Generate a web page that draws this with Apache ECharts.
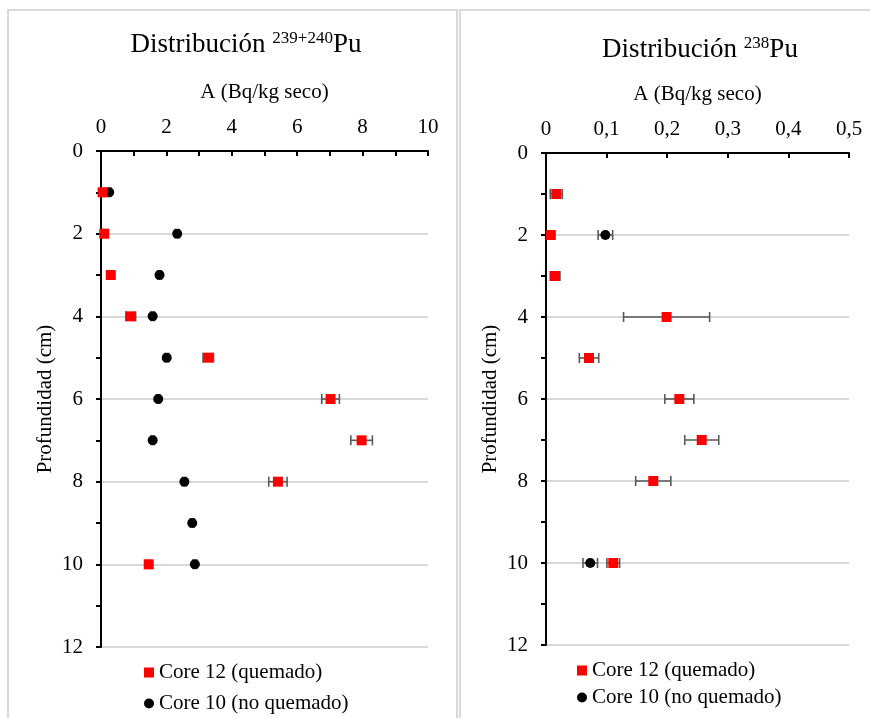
<!DOCTYPE html>
<html>
<head>
<meta charset="utf-8">
<script src="https://cdn.jsdelivr.net/npm/echarts@6/dist/echarts.min.js"></script>
<style>
  html, body { margin: 0; padding: 0; background: #fff; }
  #chart { width: 870px; height: 718px; }
</style>
</head>
<body>
<div id="chart"></div>
<script>
// Depth profiles of plutonium activity (Bq/kg dry) for two soil cores.
var serieQuemado = 'Core 12 (quemado)';
var serieNoQuemado = 'Core 10 (no quemado)';

// 239+240Pu
var depthCore12 = [1, 2, 3, 4, 5, 6, 7, 8, 10];
var pu239Core12 = [0.05, 0.1, 0.3, 0.91, 3.28, 7.02, 7.97, 5.41, 1.46];
var pu239Core12Err = [0.05, 0.05, 0.06, 0.15, 0.16, 0.27, 0.33, 0.28, 0.05];

var depthCore10 = [1, 2, 3, 4, 5, 6, 7, 8, 9, 10];
var pu239Core10 = [0.25, 2.33, 1.79, 1.58, 2.01, 1.75, 1.58, 2.55, 2.79, 2.87];
var pu239Core10Err = [0.05, 0.06, 0.06, 0.06, 0.06, 0.05, 0.05, 0.06, 0.06, 0.06];

// 238Pu
var pu238Core12 = [0.017, 0.008, 0.015, 0.199, 0.071, 0.22, 0.257, 0.177, 0.111];
var pu238Core12Err = [0.01, 0.005, 0.008, 0.071, 0.016, 0.024, 0.028, 0.029, 0.0105];

var depth238Core10 = [2, 10];
var pu238Core10 = [0.098, 0.073];
var pu238Core10Err = [0.012, 0.012];

var FONT = '"Liberation Serif", "Times New Roman", serif';
var FS = 21;

function points(vals, depths) {
  return vals.map(function (v, i) { return [v, depths[i]]; });
}
function errRanges(vals, errs, depths) {
  return vals.map(function (v, i) { return [v - errs[i], depths[i], v + errs[i]]; });
}

function errorBarItem(params, api) {
  var y = api.value(1);
  var p1 = api.coord([api.value(0), y]);
  var p2 = api.coord([api.value(2), y]);
  var h = 5;
  var style = { stroke: '#595959', lineWidth: 1.6, fill: null };
  return {
    type: 'group',
    children: [
      { type: 'line', shape: { x1: p1[0], y1: p1[1], x2: p2[0], y2: p2[1] }, style: style },
      { type: 'line', shape: { x1: p1[0], y1: p1[1] - h, x2: p1[0], y2: p1[1] + h }, style: style },
      { type: 'line', shape: { x1: p2[0], y1: p2[1] - h, x2: p2[0], y2: p2[1] + h }, style: style }
    ]
  };
}

function depthAxis(gridIndex) {
  return {
    gridIndex: gridIndex,
    type: 'value',
    inverse: true,
    min: 0, max: 12, interval: 2,
    name: 'Profundidad (cm)',
    nameLocation: 'middle',
    nameGap: 45,
    nameTextStyle: { fontFamily: FONT, fontSize: FS, color: '#000' },
    axisLine: { show: true, onZero: false, lineStyle: { color: '#000', width: 2 } },
    axisTick: { show: true, inside: false, length: 5, lineStyle: { color: '#000', width: 2 } },
    minorTick: { show: true, splitNumber: 2, length: 5, lineStyle: { color: '#000', width: 2 } },
    axisLabel: { fontFamily: FONT, fontSize: FS, color: '#000', margin: 18 },
    splitLine: { show: true, lineStyle: { color: '#d9d9d9', width: 2 } }
  };
}

function activityAxis(gridIndex, max, interval, minor, fmt) {
  return {
    gridIndex: gridIndex,
    type: 'value',
    position: 'top',
    min: 0, max: max, interval: interval,
    name: 'A (Bq/kg seco)',
    nameLocation: 'middle',
    nameGap: 48,
    nameTextStyle: { fontFamily: FONT, fontSize: FS, color: '#000' },
    axisLine: { show: true, onZero: false, lineStyle: { color: '#000', width: 2 } },
    axisTick: { show: true, inside: true, length: 5, lineStyle: { color: '#000', width: 2 } },
    minorTick: { show: minor, splitNumber: 2, length: 5, lineStyle: { color: '#000', width: 2 } },
    axisLabel: { fontFamily: FONT, fontSize: FS, color: '#000', margin: 13, formatter: fmt },
    splitLine: { show: false }
  };
}

function commaFmt(v) {
  return String(+v.toFixed(2)).replace('.', ',');
}

var titleRich = {
  m: { fontFamily: FONT, fontSize: 27, color: '#000', lineHeight: 34 },
  s: { fontFamily: FONT, fontSize: 17, color: '#000', lineHeight: 34, padding: [0, 0, 12, 0] }
};

function legendFor(left, top, gap) {
  return {
    orient: 'vertical', left: left, top: top, itemGap: gap, padding: 0, height: 80,
    itemWidth: 10, itemHeight: 10,
    textStyle: { fontFamily: FONT, fontSize: FS, color: '#000' },
    data: [{ name: serieQuemado, icon: 'rect' }, { name: serieNoQuemado, icon: 'circle' }]
  };
}

var option = {
  backgroundColor: '#fff',
  animation: false,
  graphic: [
    { type: 'rect', shape: { x: 8, y: 10, width: 449, height: 720 }, style: { fill: null, stroke: '#d9d9d9', lineWidth: 2 }, z: -10 },
    { type: 'rect', shape: { x: 460, y: 10, width: 420, height: 720 }, style: { fill: null, stroke: '#d9d9d9', lineWidth: 2 }, z: -10 },
    { type: 'text', x: 246, y: 45, style: { text: '{m|Distribución }{s|239+240}{m|Pu}', rich: titleRich, align: 'center', verticalAlign: 'middle' } },
    { type: 'text', x: 700, y: 50, style: { text: '{m|Distribución }{s|238}{m|Pu}', rich: titleRich, align: 'center', verticalAlign: 'middle' } }
  ],
  grid: [
    { left: 101, top: 151, width: 327, height: 496 },
    { left: 546, top: 153, width: 303, height: 492 }
  ],
  xAxis: [
    activityAxis(0, 10, 2, true, null),
    activityAxis(1, 0.5, 0.1, false, commaFmt)
  ],
  yAxis: [depthAxis(0), depthAxis(1)],
  legend: [legendFor(144, 662, 10), legendFor(577, 660, 6)],
  series: [
    { type: 'custom', name: 'err239_12', xAxisIndex: 0, yAxisIndex: 0, renderItem: errorBarItem,
      encode: { x: [0, 2], y: 1 }, data: errRanges(pu239Core12, pu239Core12Err, depthCore12), z: 2, silent: true },
    { type: 'custom', name: 'err239_10', xAxisIndex: 0, yAxisIndex: 0, renderItem: errorBarItem,
      encode: { x: [0, 2], y: 1 }, data: errRanges(pu239Core10, pu239Core10Err, depthCore10), z: 2, silent: true },
    { type: 'custom', name: 'err238_12', xAxisIndex: 1, yAxisIndex: 1, renderItem: errorBarItem,
      encode: { x: [0, 2], y: 1 }, data: errRanges(pu238Core12, pu238Core12Err, depthCore12), z: 2, silent: true },
    { type: 'custom', name: 'err238_10', xAxisIndex: 1, yAxisIndex: 1, renderItem: errorBarItem,
      encode: { x: [0, 2], y: 1 }, data: errRanges(pu238Core10, pu238Core10Err, depth238Core10), z: 2, silent: true },

    { type: 'scatter', name: serieNoQuemado, xAxisIndex: 0, yAxisIndex: 0, symbol: 'circle', symbolSize: 10,
      itemStyle: { color: '#000', opacity: 1 }, data: points(pu239Core10, depthCore10), z: 3 },
    { type: 'scatter', name: serieQuemado, xAxisIndex: 0, yAxisIndex: 0, symbol: 'rect', symbolSize: 10,
      itemStyle: { color: '#ff0000', opacity: 1 }, data: points(pu239Core12, depthCore12), z: 4 },
    { type: 'scatter', name: serieNoQuemado, xAxisIndex: 1, yAxisIndex: 1, symbol: 'circle', symbolSize: 10,
      itemStyle: { color: '#000', opacity: 1 }, data: points(pu238Core10, depth238Core10), z: 3 },
    { type: 'scatter', name: serieQuemado, xAxisIndex: 1, yAxisIndex: 1, symbol: 'rect', symbolSize: 10,
      itemStyle: { color: '#ff0000', opacity: 1 }, data: points(pu238Core12, depthCore12), z: 4 }
  ]
};

var chart = echarts.init(document.getElementById('chart'), null, { renderer: 'canvas' });
chart.setOption(option);
</script>
</body>
</html>
